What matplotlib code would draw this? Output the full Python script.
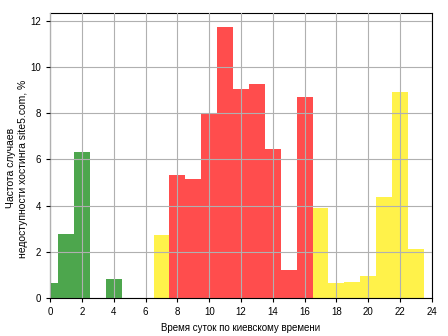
import matplotlib
matplotlib.use("Agg")
import matplotlib.pyplot as plt

plt.rcParams['font.family'] = ['Liberation Sans', 'DejaVu Sans']
plt.rcParams['font.size'] = 7

hours = list(range(24))
values = [0.64, 2.77, 6.33, 0.0, 0.81, 0.0, 0.0, 2.73, 5.33, 5.16, 7.96, 11.74,
          9.06, 9.27, 6.46, 1.21, 8.71, 3.90, 0.65, 0.69, 0.95, 4.38, 8.93, 2.12]
palette = {'g': '#4DA64D', 'y': '#FFF24A', 'r': '#FF4D4D'}
groups = ['g'] * 7 + ['y'] + ['r'] * 9 + ['y'] * 7
colors = [palette[g] for g in groups]

fig = plt.figure(figsize=(4.48, 3.36), dpi=100)
ax = fig.add_axes([0.112, 0.113, 0.852, 0.848])
ax.bar(hours, values, width=1.0, color=colors, align='center')
ax.set_xlim(0, 24)
ax.set_xticks(range(0, 25, 2))
ax.set_yticks(range(0, 13, 2))
ax.grid(True, color='#b0b0b0', linewidth=0.8)
ax.set_axisbelow(False)
ax.set_xlabel('Время суток по киевскому времени')
ax.set_ylabel('Частота случаев\nнедоступности хостинга site5.com, %', fontsize=7.5)
ax.yaxis.set_label_coords(-0.058, 0.455)
ax.tick_params(length=3)
fig.savefig('out.png', dpi=100)
